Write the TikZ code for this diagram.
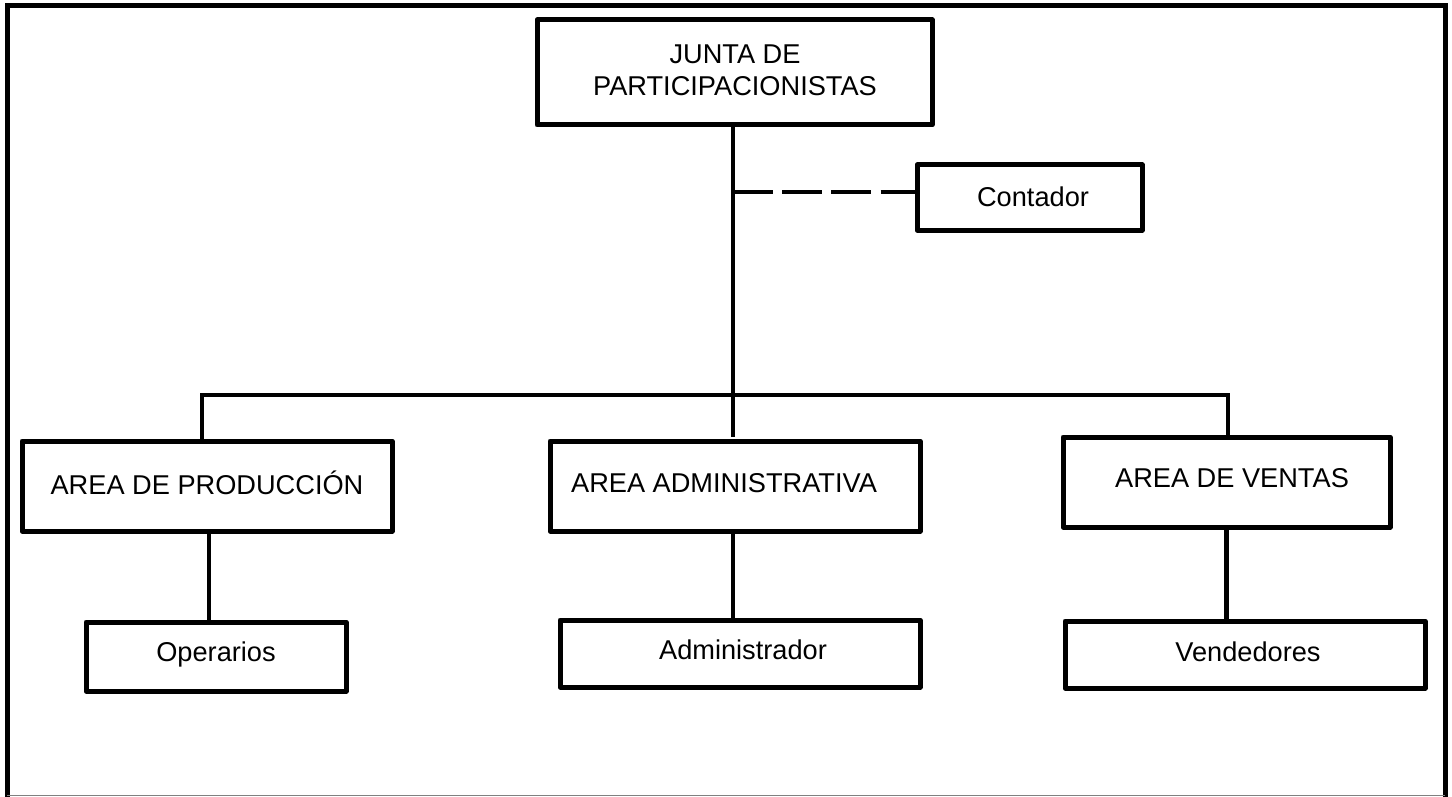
\documentclass[tikz,border=0pt]{standalone}
\usepackage{fontspec}
\setmainfont{Liberation Sans}
\begin{document}
\begin{tikzpicture}[x=0.5pt,y=-0.5pt,
  box/.style={draw, line width=2.5pt, line join=round, rectangle, inner sep=0pt},
  link/.style={line width=2.4pt},
  lbl/.style={font=\fontsize{13.6}{16}\selectfont, align=center, inner sep=0pt},
  frame/.style={line width=2.5pt}]
\useasboundingbox (0,0) rectangle (1452,797);
\clip (0,0) rectangle (1452,797);

% outer frame
\draw[frame] (7,820) -- (7,6) -- (1445,6) -- (1445,820);
\draw[gray, line width=0.8pt] (7,795.5) -- (1445,795.5);

% boxes
\node[box, minimum width=197.5pt, minimum height=52.5pt] (junta) at (734.5,72.5) {};
\node[box, minimum width=112.5pt, minimum height=32.5pt] (contador) at (1029.5,197.5) {};
\node[box, minimum width=185pt, minimum height=45pt] (prod) at (207,486) {};
\node[box, minimum width=185pt, minimum height=45pt] (admin) at (735,486) {};
\node[box, minimum width=163.5pt, minimum height=45pt] (ventas) at (1226.5,482) {};
\node[box, minimum width=130pt, minimum height=34.5pt] (oper) at (216,656.5) {};
\node[box, minimum width=180pt, minimum height=33.5pt] (adminr) at (740,653.5) {};
\node[box, minimum width=180pt, minimum height=33.5pt] (vend) at (1245,654.5) {};

% labels
\node[lbl] (tjunta) at (735,70) {JUNTA DE\\PARTICIPACIONISTAS};
\node[lbl] (tcont) at (1033,197) {Contador};
\node[lbl] (tprod) at (207,483) {AREA DE PRODUCCIÓN};
\node[lbl] (tadmin) at (724,483) {AREA ADMINISTRATIVA};
\node[lbl] (tvent) at (1232,478) {AREA DE VENTAS};
\node[lbl] (toper) at (216,654) {Operarios};
\node[lbl] (tadminr) at (743,650) {Administrador};
\node[lbl] (tvend) at (1248,652) {Vendedores};

% connectors
\coordinate (trunk) at (733,437);
\coordinate (tap) at (733,192);
\coordinate (barL) at (202,395);
\coordinate (barR) at (1228,395);

\draw[link] (trunk |- junta.south) -- (trunk);
\draw[link, dash pattern=on 20pt off 4.6pt] (tap) -- (tap -| contador.west);
\draw[link] (barL |- prod.north) -- (barL) -- (barR) -- (barR |- ventas.north);
\draw[link] ([xshift=1pt]prod.south) -- ([xshift=1pt]prod.south |- oper.north);
\draw[link] ([xshift=-1pt]admin.south) -- ([xshift=-1pt]admin.south |- adminr.north);
\draw[link] (ventas.south) -- (ventas.south |- vend.north);
\end{tikzpicture}
\end{document}
